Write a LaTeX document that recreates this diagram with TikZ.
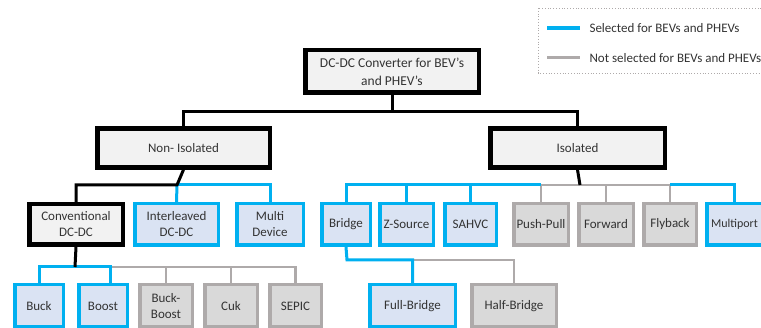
\documentclass[tikz,border=0pt]{standalone}
\usepackage{fontspec}
\setmainfont{Carlito}
\definecolor{selblue}{HTML}{00B0F0}
\definecolor{selfill}{HTML}{DAE3F3}
\definecolor{notgray}{HTML}{AEAAAA}
\definecolor{notfill}{HTML}{D9D9D9}
\definecolor{topfill}{HTML}{F2F2F2}
\definecolor{txt}{HTML}{333333}
\begin{document}
\begin{tikzpicture}[x=1pt,y=-1pt,
  font=\fontsize{13}{16}\selectfont, text=txt,
  topbox/.style={draw=black, line width=4.5pt, fill=topfill, align=center, inner sep=0pt},
  selbox/.style={draw=selblue, line width=3.5pt, fill=selfill, align=center, inner sep=0pt},
  notbox/.style={draw=notgray, line width=3.5pt, fill=notfill, align=center, inner sep=0pt},
  blk/.style={draw=black, line width=3pt},
  blu/.style={draw=selblue, line width=3pt},
  gry/.style={draw=notgray, line width=2.5pt}]
\useasboundingbox (0,0) rectangle (761,328);

% legend
\draw[notgray, line width=0.8pt, dotted] (538,8) rectangle (775,73);
\node[anchor=west] (lgsel) at (586,28) {Selected for BEVs and PHEVs};
\node[anchor=west] (lgnot) at (586,58) {Not selected for BEVs and PHEVs};
\draw[blu, line width=3.5pt] ([xshift=-39pt]lgsel.west) -- ([xshift=-6pt]lgsel.west);
\draw[gry, line width=3pt] ([xshift=-39pt]lgnot.west) -- ([xshift=-6pt]lgnot.west);

% bus levels
\coordinate (rbus) at (392,112);
\coordinate (nbus) at (177,185);
\coordinate (ibus) at (580,185);
\coordinate (cbus) at (75,267);
\coordinate (bbus) at (347,260);

% level 0 and 1
\node[topbox, minimum width=173.5pt, minimum height=42.5pt, font=\fontsize{13.5}{18}\selectfont] (root) at (392,71.5) {DC-DC Converter for BEV's\\and PHEV's};
\node[topbox, minimum width=172.5pt, minimum height=39pt] (noniso) at (183.5,148) {Non- Isolated};
\node[topbox, minimum width=174.5pt, minimum height=39pt] (iso) at (577.5,148) {Isolated};

% level 2
\node[topbox, minimum width=93.5pt, minimum height=40.5pt] (conv) at (76,224.5) {Conventional\\DC-DC};
\node[selbox, minimum width=83.5pt, minimum height=41.5pt] (inter) at (176.5,224.5) {Interleaved\\DC-DC};
\node[selbox, minimum width=66.5pt, minimum height=41.5pt] (multi) at (270,224.5) {Multi\\Device};
\node[selbox, minimum width=48.5pt, minimum height=41.5pt] (bridge) at (346,224.5) {Bridge};
\node[selbox, minimum width=53.5pt, minimum height=41.5pt] (zsrc) at (406.5,224.5) {Z-Source};
\node[selbox, minimum width=51.5pt, minimum height=41.5pt] (sahvc) at (470.5,224.5) {SAHVC};
\node[notbox, minimum width=54.5pt, minimum height=41.5pt] (push) at (541,224.5) {Push-Pull};
\node[notbox, minimum width=54.5pt, minimum height=41.5pt] (fwd) at (606,224.5) {Forward};
\node[notbox, minimum width=52.5pt, minimum height=41.5pt] (fly) at (670,224.5) {Flyback};
\node[selbox, minimum width=55.5pt, minimum height=41.5pt, font=\fontsize{12}{15}\selectfont] (mport) at (734.5,224.5) {Multiport};

% level 3
\node[selbox, minimum width=48.5pt, minimum height=42.5pt] (buck) at (39,306) {Buck};
\node[selbox, minimum width=48.5pt, minimum height=42.5pt] (boost) at (103,306) {Boost};
\node[notbox, minimum width=52.5pt, minimum height=42.5pt] (bboost) at (166,306) {Buck-\\Boost};
\node[notbox, minimum width=52.5pt, minimum height=42.5pt] (cuk) at (231,306) {Cuk};
\node[notbox, minimum width=51.5pt, minimum height=42.5pt] (sepic) at (295.5,306) {SEPIC};
\node[selbox, minimum width=85.5pt, minimum height=42.5pt] (fullb) at (412.5,306) {Full-Bridge};
\node[notbox, minimum width=84.5pt, minimum height=42.5pt] (halfb) at (514,306) {Half-Bridge};

% root to level 1
\draw[blk] (root.south) -- (rbus) -| (noniso.north);
\draw[blk] (rbus) -| (iso.north);

% non-isolated
\draw[blu] (nbus) -- (inter.north);
\draw[blu] (nbus) -| (multi.north);
\draw[blk] (noniso.south) -- (nbus) -| (conv.north);

% conventional
\draw[gry] ([xshift=7pt]boost.north |- cbus) -| (bboost.north);
\draw[gry] ([xshift=7pt]boost.north |- cbus) -| (cuk.north);
\draw[gry] ([xshift=7pt]boost.north |- cbus) -| (sepic.north);
\draw[blu] (cbus) -| (buck.north);
\draw[blu] (cbus) -| ([xshift=7pt]boost.north);
\draw[blk] (conv.south) -- (cbus);

% isolated
\draw[gry] (push.north) |- (fly.north |- ibus) -- (fly.north);
\draw[gry] (fwd.north |- ibus) -- (fwd.north);
\draw[blu] (bridge.north) |- (push.north |- ibus);
\draw[blu] (zsrc.north |- ibus) -- (zsrc.north);
\draw[blu] (sahvc.north |- ibus) -- (sahvc.north);
\draw[blu] (mport.north) |- (fly.north |- ibus);
\draw[blk] (iso.south) -- (ibus);

% bridge
\draw[gry] (fullb.north |- bbus) -| (halfb.north);
\draw[blu] (bridge.south) -- (bbus) -| (fullb.north);
\end{tikzpicture}
\end{document}
